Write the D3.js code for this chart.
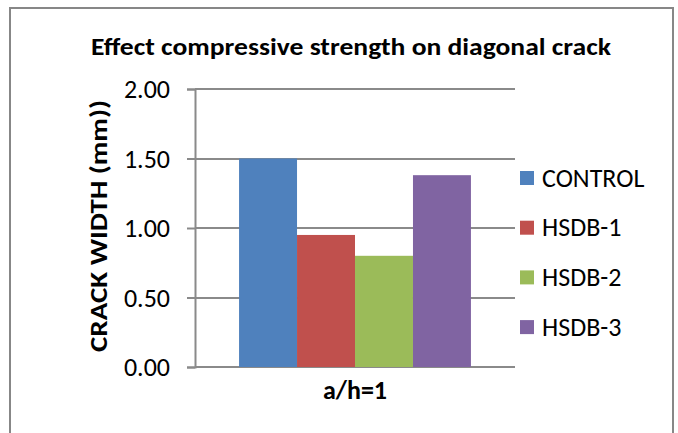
<!DOCTYPE html>
<html>
<head>
<meta charset="utf-8">
<script src="https://cdn.jsdelivr.net/npm/d3@7"></script>
<style>
  html, body { margin: 0; padding: 0; background: #fff; }
  svg { display: block; }
  text { font-family: Carlito, "Liberation Sans Narrow", "Open Sans", sans-serif; fill: #000; }
</style>
</head>
<body>
<svg id="chart" width="678" height="433"></svg>
<script>
// Crack width by specimen for a/h = 1
const categories = ["a/h=1"];
const seriesNames = ["CONTROL", "HSDB-1", "HSDB-2", "HSDB-3"];
const seriesValues = [1.50, 0.95, 0.80, 1.38];
const seriesColors = ["#4f81bd", "#c0504d", "#9bbb59", "#8064a2"];
const yTicks = [0, 0.5, 1.0, 1.5, 2.0];

const svg = d3.select("#chart");
const plot = { left: 195, right: 515, top: 89, bottom: 367 };
const font = "Carlito, 'Liberation Sans Narrow', 'Open Sans', sans-serif";

// chart frame
svg.append("rect")
  .attr("x", 10).attr("y", 8)
  .attr("width", 663).attr("height", 440)
  .attr("fill", "#fff").attr("stroke", "#878787").attr("stroke-width", 2);

const y = d3.scaleLinear().domain([0, 2]).range([plot.bottom, plot.top]);
const x0 = d3.scaleBand().domain(categories).range([plot.left, plot.right])
  .paddingInner(0).paddingOuter(0.19);
const x1 = d3.scaleBand().domain(seriesNames).range([0, x0.bandwidth()]).padding(0);

// gridlines
svg.append("g").selectAll("line").data(yTicks).join("line")
  .attr("x1", plot.left).attr("x2", plot.right)
  .attr("y1", d => Math.round(y(d))).attr("y2", d => Math.round(y(d)))
  .attr("stroke", "#8a8a8a").attr("stroke-width", 2);

// y axis
const yAxis = d3.axisLeft(y).tickValues(yTicks).tickFormat(d3.format(".2f"))
  .tickSize(8).tickPadding(17);
const gy = svg.append("g").attr("transform", `translate(${plot.left},0)`).call(yAxis);
gy.select(".domain").attr("stroke", "#8a8a8a").attr("stroke-width", 2);
gy.selectAll(".tick line").attr("stroke", "#8a8a8a").attr("stroke-width", 2);
gy.selectAll(".tick text").attr("font-size", 26).attr("fill", "#222")
  .attr("dy", "0.34em")
  .style("font-family", font);

// bars
const groups = svg.append("g").selectAll("g").data(categories).join("g")
  .attr("transform", d => `translate(${x0(d)},0)`);
groups.selectAll("rect").data(seriesNames.map((n, i) => ({ name: n, value: seriesValues[i], color: seriesColors[i] })))
  .join("rect")
  .attr("x", d => x1(d.name))
  .attr("width", x1.bandwidth())
  .attr("y", d => y(d.value))
  .attr("height", d => y(0) - y(d.value))
  .attr("fill", d => d.color);

// x category label
svg.append("g").selectAll("text").data(categories).join("text")
  .attr("x", d => x0(d) + x0.bandwidth() / 2)
  .attr("y", 399)
  .attr("text-anchor", "middle")
  .attr("font-size", 26).attr("font-weight", "bold")
  .text(d => d);

// title
svg.append("text")
  .attr("x", 351).attr("y", 55)
  .attr("text-anchor", "middle")
  .attr("font-size", 25).attr("font-weight", "bold")
  .attr("textLength", 520).attr("lengthAdjust", "spacingAndGlyphs")
  .text("Effect compressive strength on diagonal crack");

// y axis title
svg.append("text")
  .attr("transform", "translate(107,226) rotate(-90)")
  .attr("text-anchor", "middle")
  .attr("font-size", 25).attr("font-weight", "bold")
  .attr("textLength", 252).attr("lengthAdjust", "spacingAndGlyphs")
  .text("CRACK WIDTH (mm))");

// legend
const legend = svg.append("g").selectAll("g").data(seriesNames).join("g")
  .attr("transform", (d, i) => `translate(520,${171 + i * 49.7})`);
legend.append("rect").attr("width", 14).attr("height", 14)
  .attr("fill", (d, i) => seriesColors[i]);
legend.append("text").attr("x", 22).attr("y", 15.5)
  .attr("font-size", 26).attr("fill", "#222")
  .text(d => d);
</script>
</body>
</html>
